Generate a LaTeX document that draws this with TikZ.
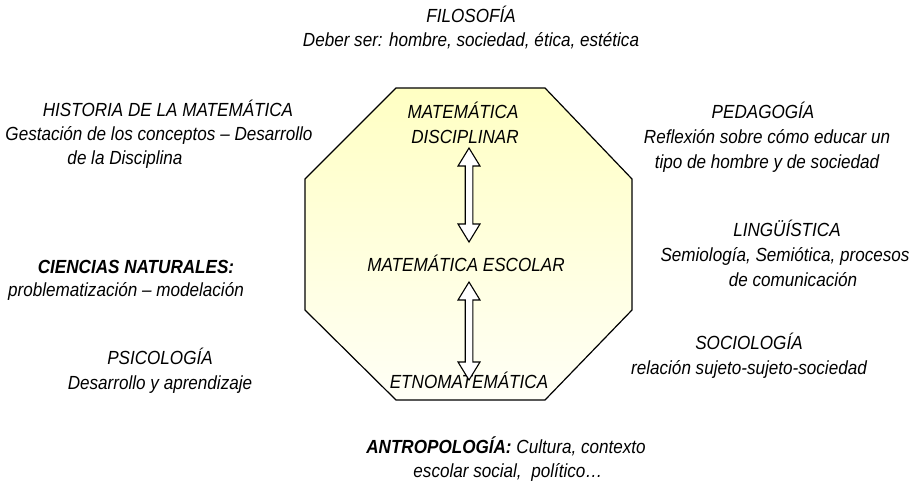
\documentclass[tikz,border=0pt]{standalone}
\usepackage{fontspec}
\setmainfont{Liberation Sans}[FakeStretch=0.9]
\usetikzlibrary{calc}
\definecolor{octtop}{RGB}{255,255,195}
\definecolor{octbot}{RGB}{255,255,246}
\newcommand{\blockdblarrow}[3]{%
  \draw[arrowblock] (#1,#2) -- ({#1+11},{#2+18}) -- ({#1+3.8},{#2+18}) -- ({#1+3.8},{#3-18}) -- ({#1+11},{#3-18})
    -- (#1,#3) -- ({#1-11},{#3-18}) -- ({#1-3.8},{#3-18}) -- ({#1-3.8},{#2+18}) -- ({#1-11},{#2+18}) -- cycle;}
\begin{document}
\begin{tikzpicture}[x=1pt,y=-1pt,
  lbl/.style={anchor=base,inner sep=0pt,font=\fontsize{19}{24}\selectfont\itshape},
  octa/.style={draw=black,line width=1.2pt,top color=octtop,bottom color=octbot},
  arrowblock/.style={draw=black,line width=1.1pt,fill=white,line join=miter}]
\useasboundingbox (0,0) rectangle (920,488);
% octagon
\draw[octa] (396,88) -- (545,88) -- (632,179) -- (632,310) -- (545,400) -- (396,400) -- (305,310) -- (305,179) -- cycle;
% center texts
\node[lbl] (md1) at (463,118) {MATEMÁTICA};
\node[lbl] (md2) at (465,143) {DISCIPLINAR};
\node[lbl] (me) at (466,271) {MATEMÁTICA ESCOLAR};
\node[lbl] (et) at (469,388) {ETNOMATEMÁTICA};
% arrows
\blockdblarrow{469}{148}{242}
\blockdblarrow{469}{282}{380}
% surrounding texts
\node[lbl] (fil1) at (471,22) {FILOSOFÍA};
\node[lbl] (fil2) at (471,46) {Deber ser: hombre, sociedad, ética, estética};
\node[lbl] (his1) at (168,116) {HISTORIA DE LA MATEMÁTICA};
\node[lbl] (his2) at (159,140) {Gestación de los conceptos – Desarrollo};
\node[lbl] (his3) at (125,164) {de la Disciplina};
\node[lbl] (ped1) at (763,118) {PEDAGOGÍA};
\node[lbl] (ped2) at (767,143) {Reflexión sobre cómo educar un};
\node[lbl] (ped3) at (767,168) {tipo de hombre y de sociedad};
\node[lbl] (lin1) at (787,236) {LINGÜÍSTICA};
\node[lbl] (lin2) at (785,261) {Semiología, Semiótica, procesos};
\node[lbl] (lin3) at (793,286) {de comunicación};
\node[lbl] (cie1) at (136,273) {\bfseries CIENCIAS NATURALES:};
\node[lbl] (cie2) at (126,296) {problematización – modelación};
\node[lbl] (soc1) at (749,349) {SOCIOLOGÍA};
\node[lbl] (soc2) at (749,374) {relación sujeto-sujeto-sociedad};
\node[lbl] (psi1) at (160,364) {PSICOLOGÍA};
\node[lbl] (psi2) at (160,389) {Desarrollo y aprendizaje};
\node[lbl] (ant1) at (506,453) {{\bfseries ANTROPOLOGÍA:} Cultura, contexto};
\node[lbl] (ant2) at (508,477) {escolar social,\ \ político…};
\end{tikzpicture}
\end{document}
